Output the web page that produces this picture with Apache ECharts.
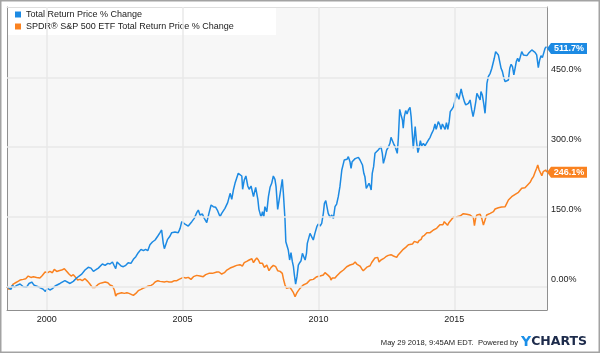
<!DOCTYPE html>
<html>
<head>
    <meta charset="utf-8">
    <title>Total Return Price % Change</title>
    <script src="https://cdn.jsdelivr.net/npm/echarts@6/dist/echarts.min.js"></script>
    <style>
        html, body { margin: 0; padding: 0; background: #fff; }
    </style>
</head>
<body>
    <div id="main" style="width:600px;height:353px;"></div>
    <script type="text/javascript">
        // series names (legend)
        var seriesNames = ['Total Return Price % Change', 'SPDR® S&P 500 ETF Total Return Price % Change'];

        // axis ticks
        var xTicks = [2000, 2005, 2010, 2015];
        var yTicks = [0, 150, 300, 450];

        // blue series: dates as decimal years, values in %
        var blueDates = [1998.54, 1998.69, 1998.74, 1998.81, 1998.90, 1999.02, 1999.14, 1999.26, 1999.35, 1999.45,
            1999.54, 1999.69, 1999.88, 1999.94, 2000.04, 2000.12, 2000.21, 2000.31, 2000.49, 2000.67,
            2000.86, 2000.98, 2001.10, 2001.29, 2001.41, 2001.53, 2001.63, 2001.72, 2001.80, 2001.90,
            2001.96, 2002.05, 2002.15, 2002.25, 2002.33, 2002.42, 2002.49, 2002.54, 2002.59, 2002.66,
            2002.74, 2002.82, 2002.91, 2003.00, 2003.10, 2003.19, 2003.28, 2003.37, 2003.47, 2003.56,
            2003.64, 2003.72, 2003.80, 2003.89, 2003.99, 2004.09, 2004.17, 2004.23, 2004.29, 2004.33,
            2004.39, 2004.45, 2004.54, 2004.60, 2004.66, 2004.72, 2004.79, 2004.84, 2004.91, 2004.97,
            2005.03, 2005.09, 2005.15, 2005.21, 2005.27, 2005.34, 2005.43, 2005.52, 2005.58, 2005.64,
            2005.73, 2005.80, 2005.89, 2005.97, 2006.05, 2006.13, 2006.22, 2006.29, 2006.38, 2006.44,
            2006.50, 2006.56, 2006.66, 2006.75, 2006.81, 2006.87, 2006.93, 2006.99, 2007.05, 2007.11,
            2007.18, 2007.21, 2007.27, 2007.33, 2007.40, 2007.45, 2007.52, 2007.61, 2007.69, 2007.77,
            2007.81, 2007.89, 2007.94, 2007.99, 2008.03, 2008.10, 2008.16, 2008.22, 2008.28, 2008.34,
            2008.40, 2008.44, 2008.50, 2008.59, 2008.62, 2008.67, 2008.71, 2008.77, 2008.80, 2008.84,
            2008.89, 2008.94, 2008.99, 2009.04, 2009.08, 2009.11, 2009.16, 2009.21, 2009.26, 2009.31,
            2009.36, 2009.41, 2009.46, 2009.51, 2009.56, 2009.59, 2009.63, 2009.69, 2009.75, 2009.81,
            2009.87, 2009.94, 2009.99, 2010.06, 2010.12, 2010.18, 2010.22, 2010.27, 2010.33, 2010.36,
            2010.43, 2010.49, 2010.55, 2010.61, 2010.67, 2010.73, 2010.79, 2010.86, 2010.92, 2010.95,
            2011.00, 2011.05, 2011.10, 2011.16, 2011.20, 2011.24, 2011.30, 2011.35, 2011.41, 2011.47,
            2011.53, 2011.57, 2011.62, 2011.67, 2011.71, 2011.76, 2011.81, 2011.86, 2011.90, 2011.94,
            2011.98, 2012.03, 2012.08, 2012.14, 2012.20, 2012.27, 2012.30, 2012.35, 2012.39, 2012.45,
            2012.51, 2012.57, 2012.63, 2012.67, 2012.72, 2012.76, 2012.82, 2012.88, 2012.90, 2012.94,
            2012.99, 2013.04, 2013.09, 2013.12, 2013.16, 2013.21, 2013.26, 2013.31, 2013.37, 2013.41,
            2013.46, 2013.49, 2013.56, 2013.60, 2013.66, 2013.70, 2013.75, 2013.80, 2013.86, 2013.92,
            2013.99, 2014.05, 2014.11, 2014.17, 2014.23, 2014.29, 2014.33, 2014.36, 2014.41, 2014.47,
            2014.51, 2014.56, 2014.61, 2014.66, 2014.71, 2014.76, 2014.81, 2014.85, 2014.91, 2014.97,
            2015.03, 2015.08, 2015.13, 2015.17, 2015.21, 2015.25, 2015.30, 2015.37, 2015.42, 2015.47,
            2015.52, 2015.58, 2015.64, 2015.69, 2015.74, 2015.79, 2015.83, 2015.89, 2015.95, 2015.98,
            2016.03, 2016.08, 2016.13, 2016.17, 2016.20, 2016.25, 2016.32, 2016.38, 2016.43, 2016.47,
            2016.52, 2016.57, 2016.62, 2016.67, 2016.72, 2016.77, 2016.82, 2016.87, 2016.93, 2016.99,
            2017.04, 2017.09, 2017.14, 2017.19, 2017.24, 2017.28, 2017.33, 2017.38, 2017.43, 2017.48,
            2017.54, 2017.60, 2017.67, 2017.73, 2017.79, 2017.85, 2017.91, 2017.97, 2018.03, 2018.09,
            2018.14, 2018.19, 2018.24, 2018.29, 2018.34, 2018.39, 2018.41];
        var blueValues = [0, -5.6, 3, -1.3, 3, 5.8, 0, -1, 7, 10,
            3, 0, -5.7, -10, -4, -7, -4, 1.5, 7, 13,
            7, 11.5, 18.7, 27, 36, 41.7, 40, 33, 36, 40,
            37.3, 48.8, 45.9, 50.2, 48.8, 53.1, 44.5, 38.8, 53.1, 55.9,
            44.5, 43, 45.9, 51.6, 50.2, 58.8, 64.5, 73.1, 80.3, 77.4,
            80.3, 77.4, 90.3, 96.1, 100.4, 109, 116.1, 121.9, 93.2, 81.7,
            84.6, 101.8, 109, 116.1, 119, 117.6, 119, 116.1, 125.4, 139.8,
            137.6, 134.7, 137.6, 130.4, 127.6, 139.8, 146.9, 159.1, 164.8, 154.1,
            156.2, 146.9, 137.6, 157.7, 175.6, 172, 170.6, 163.4, 150.5, 157.7,
            154.1, 168.4, 180.6, 200.7, 187.8, 207.8, 222.2, 232.9, 243.6, 247.2,
            237.9, 209.3, 229.3, 237.9, 216.4, 209.3, 216.4, 193.5, 213.6, 187.8,
            166.3, 149.1, 161.3, 150.5, 172, 161.3, 193.5, 213.6, 222.2, 237.9,
            230.8, 215, 166.3, 200, 200.7, 230.8, 200.7, 143.3, 96.8, 93.2,
            78.9, 57.4, 73.1, 53.8, 43, 27.3, 5.8, 21.6, 46.6, 51.6,
            55.9, 71.7, 64.5, 57.4, 71.7, 93.2, 89.6, 114.7, 118.3, 100.4,
            114.7, 129, 134.8, 130.5, 136.2, 157.7, 179.2, 184.9, 182.7, 157.7,
            149.1, 154.1, 146.9, 172, 177.7, 193.5, 215, 250.8, 265.1, 272.3,
            268.7, 273.7, 279.5, 268.7, 254.4, 268.7, 272.3, 275.2, 273.7, 278,
            272.3, 275.2, 261.6, 243.6, 236.5, 211.4, 207.8, 222.2, 216.4, 207.8,
            243.6, 258, 286.6, 290.2, 293.8, 297.4, 301, 286.6, 265.1, 278,
            293.8, 299.5, 308.1, 321, 321, 308.1, 301, 297.4, 286.6, 318.9,
            381.2, 369, 358.3, 340.4, 365.4, 378.3, 371.2, 379.8, 385.5, 365.4,
            322.4, 297.4, 343.9, 316.7, 288, 297.4, 313.8, 302.4, 308.1, 302.4,
            304.5, 315.3, 321, 329.6, 336.8, 349.7, 338.2, 343.9, 354.7, 347.5,
            338.2, 349.7, 343.9, 338.2, 352.5, 338.2, 354.7, 376.2, 381.2, 386.9,
            401.2, 415.6, 408.4, 402.7, 404, 424.9, 412, 397.7, 390.5, 386.9,
            394.1, 401.2, 379.8, 365.4, 379.8, 397.7, 415.6, 408.4, 401.2, 419.2,
            412, 394.1, 372.6, 404.8, 437.1, 451.4, 458.6, 469.3, 472.9, 490.8,
            505.1, 508.7, 498, 483.6, 469.3, 462.1, 449.2, 440.6, 437.1, 444.2,
            469.3, 477.9, 472.9, 455, 470.7, 483.6, 490.8, 483.6, 487.2, 505.1,
            498, 501.5, 496.5, 501.5, 499.4, 508.7, 512.3, 503.7, 498, 470.7,
            487.2, 496.5, 492.2, 492.2, 512.3, 515.9, 511.7];

        // orange series (SPDR S&P 500 ETF)
        var orangeDates = [1998.54, 1998.61, 1998.69, 1998.77, 1998.90, 1999.02, 1999.14, 1999.23, 1999.32, 1999.42,
            1999.51, 1999.63, 1999.75, 1999.84, 1999.94, 2000.04, 2000.12, 2000.21, 2000.28, 2000.37,
            2000.45, 2000.55, 2000.65, 2000.74, 2000.82, 2000.90, 2000.98, 2001.07, 2001.14, 2001.23,
            2001.31, 2001.41, 2001.51, 2001.59, 2001.68, 2001.78, 2001.88, 2001.96, 2002.05, 2002.15,
            2002.25, 2002.33, 2002.42, 2002.49, 2002.54, 2002.59, 2002.66, 2002.76, 2002.86, 2002.95,
            2003.03, 2003.10, 2003.19, 2003.28, 2003.37, 2003.47, 2003.56, 2003.64, 2003.74, 2003.84,
            2003.92, 2003.99, 2004.09, 2004.17, 2004.23, 2004.33, 2004.42, 2004.50, 2004.60, 2004.70,
            2004.79, 2004.87, 2004.94, 2005.03, 2005.12, 2005.21, 2005.27, 2005.31, 2005.40, 2005.52,
            2005.64, 2005.76, 2005.85, 2005.97, 2006.10, 2006.26, 2006.34, 2006.44, 2006.54, 2006.63,
            2006.75, 2006.87, 2006.99, 2007.11, 2007.20, 2007.27, 2007.36, 2007.45, 2007.55, 2007.61,
            2007.67, 2007.73, 2007.79, 2007.85, 2007.94, 2008.01, 2008.10, 2008.18, 2008.26, 2008.34,
            2008.43, 2008.50, 2008.59, 2008.62, 2008.67, 2008.72, 2008.77, 2008.83, 2008.89, 2008.95,
            2009.02, 2009.08, 2009.14, 2009.16, 2009.21, 2009.26, 2009.32, 2009.38, 2009.44, 2009.51,
            2009.57, 2009.63, 2009.69, 2009.75, 2009.81, 2009.87, 2009.94, 2009.99, 2010.06, 2010.12,
            2010.18, 2010.24, 2010.30, 2010.36, 2010.43, 2010.46, 2010.51, 2010.56, 2010.61, 2010.67,
            2010.73, 2010.79, 2010.86, 2010.92, 2010.98, 2011.04, 2011.10, 2011.16, 2011.22, 2011.28,
            2011.35, 2011.41, 2011.47, 2011.53, 2011.59, 2011.65, 2011.71, 2011.78, 2011.84, 2011.90,
            2011.96, 2012.02, 2012.08, 2012.18, 2012.23, 2012.30, 2012.39, 2012.48, 2012.57, 2012.67,
            2012.76, 2012.82, 2012.88, 2012.94, 2013.04, 2013.12, 2013.21, 2013.31, 2013.37, 2013.46,
            2013.53, 2013.58, 2013.66, 2013.70, 2013.78, 2013.82, 2013.90, 2013.99, 2014.05, 2014.11,
            2014.17, 2014.23, 2014.29, 2014.35, 2014.41, 2014.47, 2014.53, 2014.58, 2014.63, 2014.68,
            2014.75, 2014.80, 2014.88, 2014.93, 2014.98, 2015.03, 2015.09, 2015.15, 2015.21, 2015.27,
            2015.33, 2015.39, 2015.46, 2015.52, 2015.58, 2015.64, 2015.70, 2015.74, 2015.79, 2015.83,
            2015.89, 2015.95, 2016.01, 2016.07, 2016.13, 2016.19, 2016.25, 2016.32, 2016.38, 2016.44,
            2016.50, 2016.56, 2016.62, 2016.68, 2016.74, 2016.81, 2016.87, 2016.93, 2016.99, 2017.05,
            2017.11, 2017.17, 2017.24, 2017.30, 2017.36, 2017.42, 2017.48, 2017.54, 2017.60, 2017.67,
            2017.73, 2017.79, 2017.85, 2017.91, 2017.97, 2018.03, 2018.07, 2018.12, 2018.17, 2018.22,
            2018.27, 2018.31, 2018.36, 2018.41];
        var orangeValues = [0, -5.7, -1.4, 5.8, 10.1, 14.4, 15.8, 17.2, 22.9, 20,
            21.5, 20, 18.6, 24.3, 31.5, 30.1, 32.9, 30.1, 37.2, 32.9,
            34.4, 35.8, 38.7, 32.9, 27.2, 22.9, 25.8, 20, 14.4, 15.8,
            12.9, 17.2, 11.5, 5.8, -1.4, -1.4, 4.3, 7.2, 8.7, 10.1,
            8.7, 3.6, 1.5, -7.1, -20, -15.7, -14.3, -12.8, -14.3, -12.8,
            -14.3, -17.1, -18.6, -14.3, -8.5, -5.7, -2.8, -1.4, 1.5, 2.9,
            5.7, 10.1, 13, 11.5, 13, 10.1, 11.5, 10.1, 10.1, 13,
            13, 15.8, 18.7, 20.1, 18.7, 20.1, 18, 15.8, 21.6, 24.4,
            23, 21.6, 25.9, 28.7, 28.7, 31.6, 31.6, 27.3, 30.2, 35.9,
            40.2, 43, 45.9, 47.4, 44.5, 51.7, 54.5, 57.4, 60.2, 51.7,
            57.4, 61.7, 57.4, 50.2, 50.2, 41.6, 46.6, 34.5, 41.6, 45.9,
            43, 34.5, 33, 32.3, 28.7, 14.4, 3.6, -3.5, -7.1, -1.4,
            -7.1, -12.8, -21.4, -17.8, -12.8, -8.5, -3.5, -1.4, 3.6, 1.5,
            7.2, 10.1, 14.4, 17.3, 15.8, 18.7, 21.6, 20.1, 23, 25.9,
            25.1, 30.2, 30.2, 24.4, 20.1, 14.4, 18.7, 15.8, 18.7, 23,
            25.9, 30.2, 32.3, 35.9, 39.5, 43, 44.5, 46.6, 44.5, 48.8,
            53.1, 48.8, 51.6, 44.5, 38.8, 34.5, 35.9, 42, 46, 45,
            52, 57, 61.7, 63.1, 53.1, 57.4, 60.2, 64.5, 67.4, 68.8,
            66, 66, 63.1, 68.8, 75.3, 80.3, 84.6, 90.3, 93.2, 91.8,
            97.5, 96.1, 94.6, 98.9, 101.8, 107.5, 110.4, 116.1, 118.3, 116.1,
            118.3, 121.9, 119, 125.4, 127.6, 133.3, 136.2, 133.3, 139.8, 136.2,
            131.9, 137.6, 143.3, 146.9, 150.5, 146.9, 150.5, 149.1, 151.9, 155.5,
            157, 154.1, 155.5, 157.7, 154.1, 150.5, 148.4, 131.2, 148.4, 154.1,
            157, 155.5, 146.9, 132.6, 136.2, 154.1, 157, 157.7, 159.8, 161.3,
            167, 168.4, 169.8, 168.4, 171.3, 174.1, 172, 179.2, 186.3, 188.5,
            193.5, 197.1, 198.5, 200.7, 202.8, 205.7, 211.4, 215, 212.8, 217.1,
            220, 224.3, 231.5, 236.5, 245.8, 254.4, 261.6, 250.8, 253, 238.6,
            247.2, 247.2, 250.8, 246.1];

        var blueColor = '#1c8ae3';
        var orangeColor = '#fa8220';
        var fontFamily = '"Liberation Sans", Arial, sans-serif';

        function pairs(dates, values) {
            var out = [];
            for (var i = 0; i < dates.length; i++) {
                out.push([dates[i], values[i]]);
            }
            return out;
        }

        // value tag at the end of each line
        var tagPath = 'path://M0,5L4,0L40,0L40,10L4,10Z';
        function endTag(dates, values, color) {
            var n = dates.length - 1;
            return {
                symbol: tagPath,
                symbolSize: [40, 11],
                symbolOffset: [20, 0],
                symbolKeepAspect: false,
                silent: true,
                itemStyle: { color: color },
                label: {
                    show: true,
                    position: 'inside',
                    offset: [2, 0],
                    color: '#fff',
                    fontSize: 9,
                    fontWeight: 'bold',
                    fontFamily: fontFamily,
                    formatter: function (p) { return p.value.toFixed(1) + '%'; }
                },
                data: [{ coord: [dates[n], values[n]], value: values[n] }]
            };
        }

        var gridLines = [];
        yTicks.forEach(function (v) { gridLines.push({ yAxis: v }); });
        xTicks.forEach(function (v) { gridLines.push({ xAxis: v }); });

        var xMin = blueDates[0], xMax = blueDates[blueDates.length - 1];
        var yMin = -50, yMax = 601;

        var myChart = echarts.init(document.getElementById('main'));
        myChart.setOption({
            animation: false,
            textStyle: { fontFamily: fontFamily },
            grid: {
                left: 7, right: 53, top: 7, bottom: 43,
                show: true,
                backgroundColor: '#f7f7f7',
                borderWidth: 0
            },
            legend: {
                orient: 'vertical',
                left: 15,
                top: 10,
                padding: 0,
                itemWidth: 6,
                itemHeight: 6,
                itemGap: 3,
                icon: 'rect',
                selectedMode: false,
                z: 5,
                textStyle: { fontSize: 9, color: '#222', fontFamily: fontFamily, lineHeight: 9 },
                data: seriesNames
            },
            xAxis: [{
                type: 'value',
                position: 'bottom',
                min: xMin,
                max: xMax,
                splitNumber: 4,
                splitLine: { show: false },
                axisLine: { show: true, onZero: false, lineStyle: { color: '#8f8f8f', width: 1 } },
                axisTick: { show: false },
                axisLabel: {
                    margin: 5,
                    fontSize: 9,
                    color: '#222',
                    showMinLabel: false,
                    showMaxLabel: false,
                    formatter: function (v) {
                        var r = Math.round(v);
                        return (Math.abs(v - r) < 1e-6 && xTicks.indexOf(r) >= 0) ? String(r) : '';
                    }
                }
            }, {
                type: 'value',
                position: 'top',
                min: xMin,
                max: xMax,
                splitLine: { show: false },
                axisLine: { show: true, onZero: false, lineStyle: { color: '#dedede', width: 1 } },
                axisTick: { show: false },
                axisLabel: { show: false }
            }],
            yAxis: [{
                type: 'value',
                position: 'right',
                min: yMin,
                max: yMax,
                interval: 50,
                splitLine: { show: false },
                axisLine: { show: true, onZero: false, lineStyle: { color: '#8f8f8f', width: 1 } },
                axisTick: { show: false },
                axisLabel: {
                    margin: 4,
                    fontSize: 9,
                    color: '#222',
                    verticalAlign: 'bottom',
                    padding: [0, 0, 3, 0],
                    showMaxLabel: false,
                    formatter: function (v) {
                        if (yTicks.indexOf(v) < 0) return '';
                        return v === 0 ? '0.00%' : v.toFixed(1) + '%';
                    }
                }
            }, {
                type: 'value',
                position: 'left',
                min: yMin,
                max: yMax,
                splitLine: { show: false },
                axisLine: { show: true, onZero: false, lineStyle: { color: '#8f8f8f', width: 1 } },
                axisTick: { show: false },
                axisLabel: { show: false }
            }],
            series: [
                {
                    name: 'grid',
                    type: 'line',
                    data: [],
                    silent: true,
                    z: 1,
                    markLine: {
                        silent: true,
                        symbol: ['none', 'none'],
                        label: { show: false },
                        lineStyle: { color: '#e8e8e8', width: 1.5, type: 'solid' },
                        data: gridLines
                    }
                },
                {
                    name: seriesNames[0],
                    type: 'line',
                    data: pairs(blueDates, blueValues),
                    showSymbol: false,
                    symbol: 'none',
                    clip: false,
                    z: 3,
                    color: blueColor,
                    lineStyle: { color: blueColor, width: 1.5 },
                    markPoint: endTag(blueDates, blueValues, blueColor)
                },
                {
                    name: seriesNames[1],
                    type: 'line',
                    data: pairs(orangeDates, orangeValues),
                    showSymbol: false,
                    symbol: 'none',
                    clip: false,
                    z: 2,
                    color: orangeColor,
                    lineStyle: { color: orangeColor, width: 1.5 },
                    markPoint: endTag(orangeDates, orangeValues, orangeColor)
                }
            ],
            graphic: [
                {
                    type: 'rect',
                    z: 1,
                    shape: { x: 8, y: 8, width: 268, height: 27 },
                    style: { fill: '#ffffff' },
                    silent: true
                },
                {
                    type: 'rect',
                    z: 10,
                    shape: { x: 0.75, y: 0.75, width: 598.5, height: 351.5 },
                    style: { fill: 'none', stroke: '#a3a3a3', lineWidth: 1.5 },
                    silent: true
                },
                {
                    type: 'text',
                    z: 10,
                    x: 518,
                    y: 343,
                    style: {
                        text: 'May 29 2018, 9:45AM EDT.  Powered by',
                        align: 'right',
                        verticalAlign: 'middle',
                        fontSize: 7.6,
                        fontFamily: fontFamily,
                        fill: '#222'
                    }
                },
                {
                    type: 'text',
                    z: 10,
                    x: 521,
                    y: 342,
                    style: {
                        text: '{y|Y}{c|CHARTS}',
                        verticalAlign: 'middle',
                        rich: {
                            y: { fontSize: 14, fontWeight: 'bold', fontFamily: '"DejaVu Sans", sans-serif', fill: '#1a8fe8' },
                            c: { fontSize: 12.5, fontWeight: 'bold', fontFamily: '"DejaVu Sans", sans-serif', fill: '#1d2b4b' }
                        }
                    }
                }
            ]
        });
    </script>
</body>
</html>
